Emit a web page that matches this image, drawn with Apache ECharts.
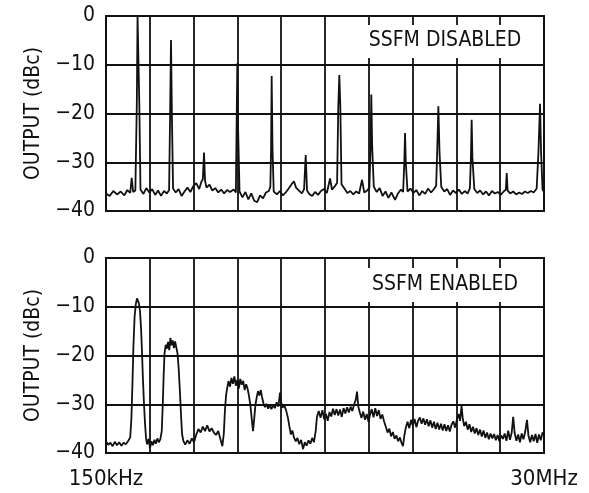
<!DOCTYPE html>
<html>
<head>
<meta charset="utf-8">
<script src="https://cdn.jsdelivr.net/npm/echarts@6/dist/echarts.min.js"></script>
<style>
html,body{margin:0;padding:0;background:#fff;}
#chart{width:589px;height:493px;}
</style>
</head>
<body>
<div id="chart"></div>
<script>
// ---- data (frequency in MHz, output in dBc) ----
const xMin = 0.15;   // 150kHz
const xMax = 30;     // 30MHz
const xEndLabels = ['150kHz', '30MHz'];
const yTickValues = [-40, -30, -20, -10, 0];
const yTickLabels = ['\u221240', '\u221230', '\u221220', '\u221210', '0'];
const yTitle = 'OUTPUT (dBc)';
const panelLabels = ['SSFM DISABLED', 'SSFM ENABLED'];

const traceDisabled = [
[0.15,-36.4],[0.4,-36.9],[0.65,-35.9],[0.9,-36.6],[1.15,-36.0],[1.4,-36.8],[1.6,-35.7],[1.8,-36.3],[1.9,-33.2],[2.0,-36.1],[2.15,-35.8],
[2.25,-18],[2.3,0],[2.36,0],[2.42,-18],
[2.5,-35.6],[2.7,-36.5],[2.9,-35.3],[3.1,-36.2],[3.3,-35.5],[3.5,-36.7],[3.7,-35.8],[3.9,-36.9],[4.1,-35.9],[4.3,-36.4],[4.45,-35.7],
[4.52,-20],[4.58,-4.9],[4.64,-20],
[4.72,-35.4],[4.9,-36.2],[5.1,-35.5],[5.3,-36.9],[5.5,-36.0],[5.7,-35.2],[5.9,-36.1],[6.1,-34.9],[6.3,-34.3],[6.5,-35.5],[6.65,-34.0],[6.75,-33.5],
[6.83,-28],[6.9,-33.8],
[7.0,-35.2],[7.2,-34.6],[7.4,-35.8],[7.6,-35.3],[7.8,-36.2],[8.0,-35.6],[8.2,-36.4],[8.4,-35.7],[8.6,-36.1],[8.85,-35.6],[9.0,-36.2],
[9.05,-22.7],[9.1,-9.7],[9.15,-22.7],
[9.25,-36.0],[9.45,-37.2],[9.65,-36.1],[9.85,-37.6],[10.05,-36.4],[10.25,-37.9],[10.45,-38.2],[10.65,-36.8],[10.85,-37.4],[11.05,-36.2],[11.25,-35.9],[11.35,-35.0],
[11.4,-27.5],[11.44,-12.3],[11.5,-27.5],
[11.58,-36.0],[11.8,-36.6],[12.0,-35.9],[12.2,-36.8],[12.4,-36.2],[12.6,-35.4],[12.8,-34.5],[12.96,-33.9],[13.1,-35.2],[13.3,-35.8],[13.5,-36.4],[13.65,-35.5],
[13.76,-28.5],[13.85,-35.8],
[14.0,-36.5],[14.2,-36.9],[14.4,-36.1],[14.6,-36.7],[14.8,-35.9],[15.0,-35.5],[15.2,-36.3],[15.42,-33.3],[15.55,-35.6],[15.75,-34.9],[15.9,-34.2],
[15.98,-18.6],[16.05,-12.1],[16.12,-18.6],
[16.2,-34.5],[16.4,-35.4],[16.6,-36.3],[16.8,-35.9],[17.0,-36.6],[17.2,-36.0],[17.4,-36.4],[17.6,-33.6],[17.75,-36.2],[17.95,-35.8],[18.1,-35.2],
[18.18,-26.8],[18.23,-16.1],[18.29,-26.8],
[18.4,-35.0],[18.6,-36.1],[18.8,-35.3],[19.0,-36.9],[19.2,-36.0],[19.4,-37.3],[19.6,-36.2],[19.85,-37.7],[20.05,-36.4],[20.25,-35.6],[20.4,-36.1],
[20.48,-30],[20.53,-24],[20.58,-30],
[20.7,-36.0],[20.9,-35.4],[21.1,-36.3],[21.3,-35.7],[21.5,-36.8],[21.7,-35.9],[21.9,-36.5],[22.1,-35.4],[22.3,-36.2],[22.5,-35.5],[22.65,-34.8],
[22.72,-28],[22.8,-18.5],[22.88,-28],
[23.0,-35.1],[23.2,-36.0],[23.4,-35.5],[23.6,-36.7],[23.8,-35.8],[24.0,-36.3],[24.2,-35.6],[24.4,-36.5],[24.6,-35.9],[24.8,-36.4],[24.95,-35.3],
[25.02,-29],[25.07,-21.3],[25.12,-29],
[25.25,-35.5],[25.45,-36.3],[25.65,-35.8],[25.85,-36.6],[26.05,-36.0],[26.25,-36.8],[26.45,-35.9],[26.65,-36.4],[26.85,-36.1],[27.05,-36.7],[27.25,-36.0],[27.4,-35.6],
[27.46,-32.2],[27.52,-35.8],
[27.7,-36.4],[27.9,-36.0],[28.1,-36.6],[28.3,-36.2],[28.5,-36.5],[28.7,-36.0],[28.9,-36.3],[29.1,-35.9],[29.3,-36.2],[29.5,-35.4],[29.62,-28],
[29.73,-18],[29.8,-28],[29.9,-35.6],[30,-36.1]
];

const traceEnabled = [
[0.15,-37.6],[0.3,-38.3],[0.45,-37.9],[0.6,-38.6],[0.75,-37.7],[0.9,-38.4],[1.05,-37.8],[1.2,-38.5],[1.35,-37.9],[1.5,-38.2],[1.65,-37.6],[1.8,-36.8],
[1.88,-33],[1.95,-26],[2.02,-18],[2.1,-12],[2.18,-9.5],[2.26,-8.3],[2.33,-8.8],[2.4,-9.4],[2.47,-11],[2.54,-14.5],[2.6,-19],[2.67,-25],[2.74,-30],[2.81,-34],[2.88,-37],
[2.95,-38.2],[3.05,-37.1],[3.15,-39.0],[3.25,-37.6],[3.35,-38.4],[3.45,-37.3],[3.55,-38.1],[3.65,-37.0],[3.75,-37.8],[3.85,-37.2],[3.95,-35.5],
[4.02,-30],[4.08,-24],[4.14,-19.5],[4.22,-17.8],[4.3,-18.6],[4.38,-17.2],[4.46,-18.9],[4.54,-16.4],[4.62,-17.9],[4.7,-16.9],[4.78,-18.5],[4.86,-17.1],[4.94,-18.3],[5.02,-19.5],[5.1,-22.5],[5.18,-27],[5.26,-32],[5.33,-36],
[5.42,-37.5],[5.55,-38.3],[5.7,-37.4],[5.85,-38.1],[6.0,-37.0],[6.15,-37.8],[6.3,-36.2],[6.45,-35.1],[6.6,-35.8],[6.75,-34.6],[6.9,-35.5],[7.05,-34.3],[7.2,-35.6],[7.35,-34.9],[7.5,-35.8],[7.65,-36.3],[7.8,-35.5],[7.95,-37.2],[8.08,-38.6],[8.18,-36],
[8.26,-31],[8.34,-28],[8.42,-26.5],[8.5,-25.2],[8.6,-26.4],[8.7,-24.6],[8.8,-25.8],[8.9,-24.3],[9.0,-26.2],[9.1,-25.0],[9.2,-26.8],[9.3,-24.8],[9.4,-26.0],[9.5,-25.2],[9.6,-27.1],[9.7,-25.9],[9.8,-26.8],[9.9,-28.4],[10.0,-30.5],[10.1,-33.5],[10.17,-35.5],[10.25,-33],[10.33,-30.2],[10.42,-28.6],[10.51,-27.3],[10.6,-28.2],[10.7,-27.1],[10.78,-28.5],[10.88,-29.8],[10.98,-30.6],[11.08,-29.9],[11.2,-30.9],[11.3,-30.1],[11.42,-31.0],[11.54,-30.2],[11.66,-30.8],[11.78,-29.6],[11.9,-30.5],[12.01,-27.6],[12.08,-29.5],[12.18,-30.7],[12.3,-30.2],[12.42,-31.2],[12.55,-32.8],[12.65,-34.6],[12.75,-36.2],[12.85,-35.4],[12.96,-36.8],[13.08,-37.6],[13.2,-36.9],[13.32,-38.2],[13.45,-37.3],[13.58,-39.2],[13.7,-37.8],[13.82,-38.5],[13.95,-37.4],[14.08,-38.1],[14.2,-36.9],[14.32,-37.8],[14.44,-35.5],
[14.53,-32.5],[14.65,-31.4],[14.77,-32.8],[14.9,-31.2],[15.02,-33.1],[15.14,-32.0],[15.26,-33.4],[15.38,-31.6],[15.5,-32.5],[15.62,-30.9],[15.74,-32.2],[15.86,-31.0],[15.98,-32.3],[16.1,-31.1],[16.22,-32.6],[16.34,-30.8],[16.46,-31.9],[16.58,-30.6],[16.7,-31.7],[16.82,-30.5],[16.94,-31.4],[17.06,-30.0],[17.16,-29.2],[17.26,-27.4],[17.34,-30.4],[17.44,-31.6],[17.56,-32.8],[17.68,-31.5],[17.8,-33.2],[17.92,-32.0],[18.04,-33.6],[18.14,-32.2],[18.26,-31.0],[18.38,-32.7],[18.5,-30.8],[18.62,-32.4],[18.74,-31.2],[18.86,-33.0],[18.98,-32.1],[19.1,-33.5],[19.22,-34.6],[19.34,-35.8],[19.46,-35.0],[19.58,-36.6],[19.7,-35.7],[19.82,-37.1],[19.94,-36.4],[20.06,-37.6],[20.18,-36.8],[20.3,-38.0],[20.39,-38.6],[20.48,-36.5],[20.58,-34.8],[20.7,-33.6],[20.82,-34.9],[20.94,-33.2],[21.06,-34.4],[21.18,-33.0],[21.3,-34.7],[21.42,-33.4],[21.54,-32.7],[21.66,-34.0],[21.78,-32.9],[21.9,-34.2],[22.02,-33.1],[22.14,-34.5],[22.26,-33.3],[22.38,-34.8],[22.5,-33.6],[22.62,-35.1],[22.74,-33.8],[22.86,-35.2],[22.98,-34.0],[23.1,-35.4],[23.22,-34.1],[23.34,-35.5],[23.46,-34.3],[23.58,-35.6],[23.7,-34.2],[23.82,-33.5],[23.94,-34.8],[24.06,-33.2],[24.18,-32.0],[24.28,-33.4],[24.38,-30.3],[24.46,-32.8],[24.56,-34.5],[24.68,-33.6],[24.8,-35.2],[24.92,-34.1],[25.04,-35.7],[25.16,-34.6],[25.28,-36.0],[25.4,-34.9],[25.52,-36.3],[25.64,-35.2],[25.76,-36.6],[25.88,-35.4],[26.0,-36.9],[26.12,-35.8],[26.24,-37.2],[26.36,-36.0],[26.48,-37.0],[26.6,-36.1],[26.72,-37.4],[26.84,-36.3],[26.96,-37.6],[27.08,-36.4],[27.2,-37.1],[27.32,-36.0],[27.44,-37.5],[27.56,-35.4],[27.68,-37.3],[27.8,-35.8],[27.9,-32.6],[28.0,-35.9],[28.12,-37.5],[28.24,-36.2],[28.36,-37.8],[28.48,-36.0],[28.6,-37.2],[28.72,-35.6],[28.84,-33.2],[28.94,-36.4],[29.06,-37.8],[29.18,-36.3],[29.3,-37.6],[29.42,-36.1],[29.54,-37.9],[29.66,-36.2],[29.78,-37.4],[29.9,-35.8],[30.0,-36.1]
];

// ---- chart ----
const FONT = "'Liberation Sans Narrow', 'DejaVu Sans Condensed', 'Arial Narrow', sans-serif";
const INK = '#111';
const chart = echarts.init(document.getElementById('chart'), null, {renderer: 'canvas'});

const grids = [
  {left: 106, top: 16, width: 438, height: 195},
  {left: 106, top: 258, width: 438, height: 195}
];

function yAxisFor(i) {
  return {
    gridIndex: i, type: 'value', min: yTickValues[0], max: yTickValues[yTickValues.length - 1], interval: 10,
    name: yTitle, nameLocation: 'middle', nameGap: 53, nameRotate: 90,
    nameTextStyle: {fontFamily: FONT, fontSize: 21, color: INK},
    axisLine: {show: true, lineStyle: {color: INK, width: 2}},
    axisTick: {show: false},
    axisLabel: {
      fontFamily: FONT, fontSize: 21, color: INK, margin: 11,
      formatter: v => { const k = yTickValues.indexOf(v); return k >= 0 ? yTickLabels[k] : ''; }
    },
    splitLine: {show: true, lineStyle: {color: INK, width: 1.8}}
  };
}
function gridXAxis(i, showLabels) {
  return {
    gridIndex: i, type: 'value', min: 0, max: 10, interval: 1, position: 'bottom',
    axisLine: {show: true, lineStyle: {color: INK, width: 2}},
    axisTick: {show: false},
    axisLabel: {
      show: showLabels, fontFamily: FONT, fontSize: 22, color: INK, margin: 15,
      showMinLabel: true, showMaxLabel: true,
      formatter: v => v === 0 ? xEndLabels[0] : (v === 10 ? xEndLabels[1] : '')
    },
    splitLine: {show: true, lineStyle: {color: INK, width: 1.8}}
  };
}
function dataXAxis(i) {
  return {gridIndex: i, type: 'value', min: xMin, max: xMax, position: 'top', show: false};
}

const option = {
  animation: false,
  backgroundColor: '#fff',
  grid: grids.map(g => Object.assign({show: true, borderColor: INK, borderWidth: 2, backgroundColor: 'transparent'}, g)),
  xAxis: [gridXAxis(0, false), dataXAxis(0), gridXAxis(1, true), dataXAxis(1)],
  yAxis: [yAxisFor(0), yAxisFor(1)],
  series: [
    {type: 'line', xAxisIndex: 1, yAxisIndex: 0, data: traceDisabled, showSymbol: false, clip: true,
     lineStyle: {color: '#111', width: 1.8}},
    {type: 'line', xAxisIndex: 3, yAxisIndex: 1, data: traceEnabled, showSymbol: false, clip: true,
     lineStyle: {color: '#111', width: 1.8}}
  ],
  graphic: [
    {type: 'rect', z: 100, shape: {x: 347, y: 25, width: 194, height: 33}, style: {fill: '#fff'}},
    {type: 'text', z: 101, x: 445, y: 41, style: {text: panelLabels[0], fontFamily: FONT, fontSize: 21, fill: INK, align: 'center', verticalAlign: 'middle'}},
    {type: 'rect', z: 100, shape: {x: 347, y: 268, width: 194, height: 34}, style: {fill: '#fff'}},
    {type: 'text', z: 101, x: 445, y: 285, style: {text: panelLabels[1], fontFamily: FONT, fontSize: 21, fill: INK, align: 'center', verticalAlign: 'middle'}}
  ]
};
chart.setOption(option);
</script>
</body>
</html>
